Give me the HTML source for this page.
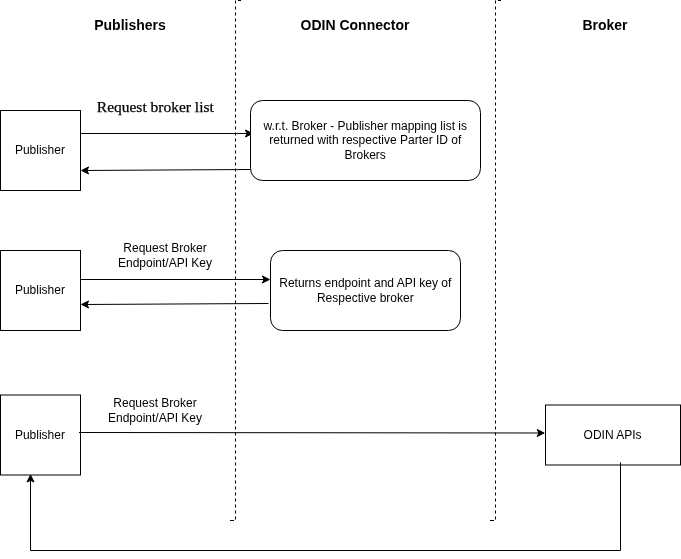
<!DOCTYPE html>
<html><head><meta charset="utf-8"><style>
html,body{margin:0;padding:0;background:#fff;width:681px;height:559px;overflow:hidden}
svg{display:block}
text{-webkit-font-smoothing:antialiased}
.t{will-change:transform}
</style></head><body>
<svg width="681" height="559" viewBox="0 0 681 559">
<g style="will-change:transform">
<path d="M 235.5 0.5 L 235.5 520.5" fill="none" stroke="#000" stroke-dasharray="3 3"/>
<path d="M 238.0 0.5 L 241.0 0.5" fill="none" stroke="#000"/>
<path d="M 234.0 520.5 L 230.0 520.5" fill="none" stroke="#000"/>
<path d="M 495.5 0.5 L 495.5 520.5" fill="none" stroke="#000" stroke-dasharray="3 3"/>
<path d="M 498.0 0.5 L 501.0 0.5" fill="none" stroke="#000"/>
<path d="M 494.0 520.5 L 490.0 520.5" fill="none" stroke="#000"/>
<rect x="0.5" y="110.5" width="80" height="80" fill="#fff" stroke="#000"/>
<rect x="0.5" y="250.5" width="80" height="80" fill="#fff" stroke="#000"/>
<rect x="0.5" y="395" width="80" height="80" fill="#fff" stroke="#000"/>
<rect x="270.5" y="250.5" width="190" height="80" rx="12" ry="12" fill="#fff" stroke="#000"/>
<rect x="545.5" y="405" width="135" height="60" fill="#fff" stroke="#000"/>
<path d="M 80.50 133.50 L 247.13 133.50" fill="none" stroke="#000" stroke-miterlimit="10"/><polygon points="252.38,133.50 245.38,137.00 247.13,133.50 245.38,130.00" fill="#000" stroke="#000" stroke-miterlimit="10"/>
<rect x="250.5" y="100.5" width="230" height="80" rx="12" ry="12" fill="#fff" stroke="#000"/>
<path d="M 250.50 169.50 L 86.87 170.46" fill="none" stroke="#000" stroke-miterlimit="10"/><polygon points="81.62,170.49 88.60,166.95 86.87,170.46 88.64,173.95" fill="#000" stroke="#000" stroke-miterlimit="10"/>
<path d="M 80.50 279.50 L 264.13 279.50" fill="none" stroke="#000" stroke-miterlimit="10"/><polygon points="269.38,279.50 262.38,283.00 264.13,279.50 262.38,276.00" fill="#000" stroke="#000" stroke-miterlimit="10"/>
<path d="M 268.50 303.50 L 86.87 304.47" fill="none" stroke="#000" stroke-miterlimit="10"/><polygon points="81.62,304.49 88.60,300.96 86.87,304.47 88.64,307.96" fill="#000" stroke="#000" stroke-miterlimit="10"/>
<path d="M 79.00 432.50 L 538.93 432.99" fill="none" stroke="#000" stroke-miterlimit="10"/><polygon points="544.18,433.00 537.18,436.49 538.93,432.99 537.19,429.49" fill="#000" stroke="#000" stroke-miterlimit="10"/>
<path d="M 620.50 462.30 L 620.50 550.50 L 30.50 550.50 L 30.50 480.27" fill="none" stroke="#000" stroke-miterlimit="10"/><polygon points="30.50,475.02 34.00,482.02 30.50,480.27 27.00,482.02" fill="#000" stroke="#000" stroke-miterlimit="10"/>
<text x="130" y="30" font-family="Liberation Sans" font-size="14" font-weight="bold" text-anchor="middle" fill="#000">Publishers</text>
<text x="355" y="30" font-family="Liberation Sans" font-size="14" font-weight="bold" text-anchor="middle" fill="#000">ODIN Connector</text>
<text x="605" y="30" font-family="Liberation Sans" font-size="14" font-weight="bold" text-anchor="middle" fill="#000">Broker</text>
<text x="39.9" y="154" font-family="Liberation Sans" font-size="12" font-weight="normal" text-anchor="middle" fill="#000">Publisher</text>
<text x="39.9" y="294" font-family="Liberation Sans" font-size="12" font-weight="normal" text-anchor="middle" fill="#000">Publisher</text>
<text x="39.9" y="439" font-family="Liberation Sans" font-size="12" font-weight="normal" text-anchor="middle" fill="#000">Publisher</text>
<text x="365.3" y="130" font-family="Liberation Sans" font-size="12" font-weight="normal" text-anchor="middle" fill="#000">w.r.t. Broker - Publisher mapping list is</text>
<text x="365.3" y="144" font-family="Liberation Sans" font-size="12" font-weight="normal" text-anchor="middle" fill="#000">returned with respective Parter ID of</text>
<text x="365.2" y="159" font-family="Liberation Sans" font-size="12" font-weight="normal" text-anchor="middle" fill="#000">Brokers</text>
<text x="365.3" y="287" font-family="Liberation Sans" font-size="12" font-weight="normal" text-anchor="middle" fill="#000">Returns endpoint and API key of</text>
<text x="365.3" y="302" font-family="Liberation Sans" font-size="12" font-weight="normal" text-anchor="middle" fill="#000">Respective broker</text>
<text x="612.6" y="439" font-family="Liberation Sans" font-size="12" font-weight="normal" text-anchor="middle" fill="#000">ODIN APIs</text>
<text x="165" y="252" font-family="Liberation Sans" font-size="12" font-weight="normal" text-anchor="middle" fill="#000">Request Broker</text>
<text x="165" y="267" font-family="Liberation Sans" font-size="12" font-weight="normal" text-anchor="middle" fill="#000">Endpoint/API Key</text>
<text x="155" y="407" font-family="Liberation Sans" font-size="12" font-weight="normal" text-anchor="middle" fill="#000">Request Broker</text>
<text x="155" y="422" font-family="Liberation Sans" font-size="12" font-weight="normal" text-anchor="middle" fill="#000">Endpoint/API Key</text>
<text x="155.3" y="112" font-family="Liberation Serif" font-size="15" text-anchor="middle" textLength="117" lengthAdjust="spacingAndGlyphs" fill="#000" stroke="#000" stroke-width="0.25">Request broker list</text>
</g>
</svg>
</body></html>
